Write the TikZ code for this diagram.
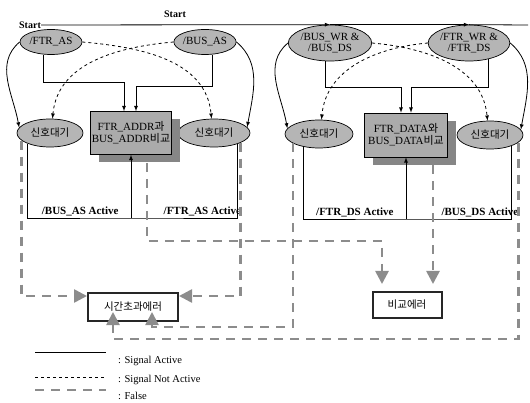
\documentclass[tikz,border=0pt]{standalone}
\usepackage{fontspec}
\setmainfont{Liberation Serif}
\newfontfamily\kr{Noto Sans CJK KR}
\usepackage{xcolor}
\usepackage{tikz}
\usetikzlibrary{shapes,arrows,arrows.meta,shadows,positioning,calc}

\tikzset{
  sig/.style={ellipse, draw, line width=0.7pt, fill=gray!58, inner sep=0pt,
    minimum width=62pt, minimum height=25pt, align=center,
    font=\fontsize{11}{11}\selectfont},
  waitst/.style={sig, minimum width=66pt, minimum height=28pt,
    font=\kr\fontsize{10.5}{11}\selectfont},
  cmpbox/.style={draw, line width=0.7pt, fill=gray!66, minimum width=81pt,
    minimum height=43pt, inner sep=1pt, align=center,
    font=\fontsize{11}{12}\selectfont,
    drop shadow={shadow xshift=8pt, shadow yshift=-8pt, fill=gray!95, opacity=1}},
  errbox/.style={draw=black!85, line width=2pt, fill=white, minimum width=90pt,
    minimum height=28pt, font=\kr\fontsize{10.5}{11}\selectfont},
  act/.style={-latex, line width=0.8pt},
  nact/.style={-latex, line width=0.8pt, dashed},
  flsline/.style={draw=gray!90, line width=2.6pt, dash pattern=on 9pt off 7pt},
  fls/.style={flsline, -{Triangle[length=13pt,width=13pt]}},
  lbl/.style={above, inner sep=2pt, font=\bfseries\fontsize{11}{11}\selectfont},
  legtxt/.style={anchor=west, inner sep=0pt, font=\fontsize{10.5}{11}\selectfont}
}

\begin{document}
\begin{tikzpicture}[x=1pt, y=-1pt]
\useasboundingbox (0,0) rectangle (530,403);

% start labels
\node[inner sep=0pt, font=\bfseries\fontsize{10}{10}\selectfont] (st) at (30,25) {Start};
\node[inner sep=0pt, font=\bfseries\fontsize{10}{10}\selectfont] (st2) at (175,14) {Start};
\coordinate (tend) at (528,25);

% signal ellipses
\node[sig] (fas) at (51,42) {/FTR\_AS};
\node[sig] (bas) at (205,42) {/BUS\_AS};
\node[sig, minimum width=64pt, minimum height=36pt] (bds) at (330,43) {/BUS\_WR \&\\/BUS\_DS};
\node[sig, minimum width=68pt, minimum height=36pt] (fds) at (469,43) {/FTR\_WR \&\\/FTR\_DS};

% waiting states
\node[waitst] (w1) at (50,133) {신호대기};
\node[waitst, minimum width=72pt] (w2) at (214,133) {신호대기};
\node[waitst, minimum width=68pt] (w3) at (319,134) {신호대기};
\node[waitst] (w4) at (490,135) {신호대기};

% compare boxes
\node[cmpbox] (addr) at (131,133) {FTR\_ADDR{\kr 과}\\BUS\_ADDR{\kr 비교}};
\node[cmpbox, minimum width=83pt, minimum height=44pt] (data) at (406,135) {FTR\_DATA{\kr 와}\\BUS\_DATA{\kr 비교}};

% error boxes
\node[errbox] (terr) at (133,307) {시간초과에러};
\node[errbox, minimum width=69pt, minimum height=26pt] (cerr) at (407,305) {비교에러};

% start line
\draw[act] (st.east) -- (bds.north);
\draw[act] (bds.north) -- (fds.north);
\draw[line width=0.8pt] (fds.north) -- (tend);

% signal active into compare
\draw[act] (fas.240) |- ([xshift=-7pt,yshift=29pt]addr.north) -- ([xshift=-7pt]addr.north);
\draw[act] (bas.-60) |- ([xshift=5pt,yshift=25pt]addr.north) -- ([xshift=5pt]addr.north);
\draw[act] (bds.255) |- ([xshift=-5pt,yshift=25pt]data.north) -- ([xshift=-5pt]data.north);
\draw[act] (fds.-40) |- ([xshift=5pt,yshift=25pt]data.north) -- ([xshift=5pt]data.north);

% signal active to waiting
\draw[act] (fas.west) to[out=220, in=100] (w1.170);
\draw[act] (bas.east) to[out=-40, in=80] (w2.10);
\draw[act] (bds.west) to[out=220, in=100] (w3.170);
\draw[act] (fds.east) to[out=-40, in=80] (w4.10);

% signal not active
\draw[nact] (fas.east) to[out=-5, in=95] (w2.100);
\draw[nact] (bas.west) to[out=185, in=85] (w1.80);
\draw[nact] (bds.east) to[out=-5, in=95] (w4.100);
\draw[nact] (fds.west) to[out=185, in=85] (w3.80);

% waiting -> compare
\coordinate (abot) at (131,218);
\coordinate (dbot) at (406,219);
\draw[line width=0.8pt] (w1.205) |- node[lbl, pos=0.755] {/BUS\_AS Active} (abot)
  -| node[lbl, pos=0.335] {/FTR\_AS Active} (w2.-25);
\draw[act] (abot) -- (addr.south);
\draw[line width=0.8pt] (w3.220) |- node[lbl, pos=0.75] {/FTR\_DS Active} (dbot)
  -| node[lbl, pos=0.35] {/BUS\_DS Active} (w4.-27);
\draw[act] (dbot) -- (data.south);

% false
\draw[fls] (w1.195) |- ([yshift=11pt]terr.west);
\draw[fls] (w2.-20) |- ([yshift=11pt]terr.east);
\draw[fls, shorten >=7pt] ([xshift=16pt,yshift=-8pt]addr.south) |- ([xshift=-25pt,yshift=50pt]cerr.north) -- ([xshift=-25pt]cerr.north);
\draw[fls, shorten >=7pt] ([xshift=27pt,yshift=-8pt]data.south) -- ([xshift=27pt]data.south |- cerr.north);
\draw[fls] (w3.200) |- ([xshift=19pt,yshift=-5pt]terr.south) -- ([xshift=19pt,yshift=10pt]terr.south);
\draw[fls] (w4.-15) |- ([xshift=-20pt,yshift=-17pt]terr.south) -- ([xshift=-20pt,yshift=10pt]terr.south);

% legend
\draw[line width=0.8pt] (35,352) -- (106,352);
\node[legtxt] (la) at (118,361) {: Signal Active};
\draw[line width=0.8pt, dashed] (35,377) -- (106,377);
\node[legtxt] (lb) at (118,380) {: Signal Not Active};
\draw[flsline] (35,390) -- (106,390);
\node[legtxt] (lc) at (118,396) {: False};
\end{tikzpicture}
\end{document}
